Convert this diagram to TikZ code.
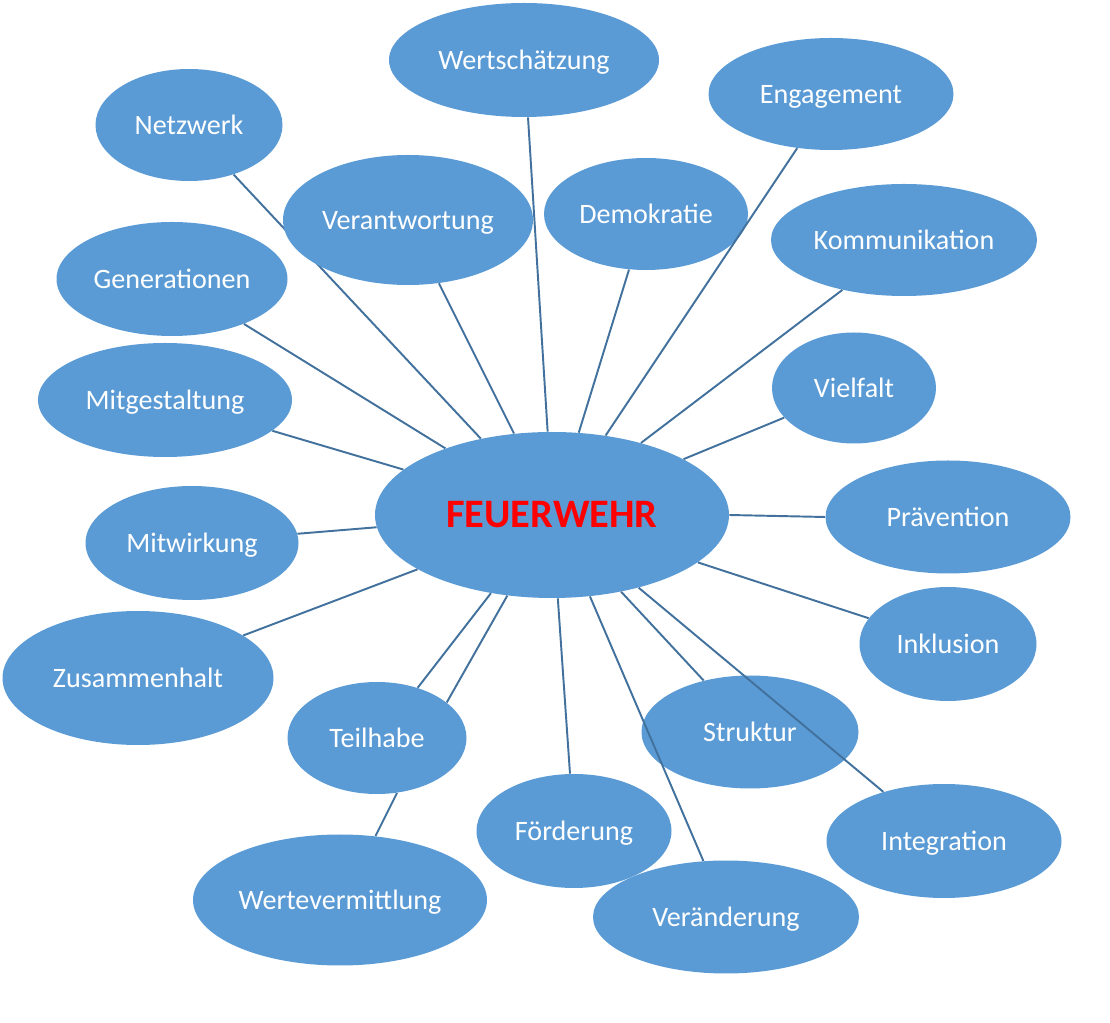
\documentclass[tikz,border=0pt]{standalone}
\usepackage{fontspec}
\setmainfont{Carlito}
\usetikzlibrary{shapes.geometric,backgrounds}
\definecolor{bubblue}{HTML}{5B9BD5}
\definecolor{conblue}{HTML}{41719C}

\begin{document}
\begin{tikzpicture}[x=0.02cm,y=-0.02cm,
    bub/.style 2 args={ellipse,fill=bubblue,text=white,inner sep=0pt,text height=10.3pt,text depth=0pt,
        minimum width=#1*0.02cm,minimum height=#2*0.02cm,font=\fontsize{16}{19}\selectfont},
    con/.style={draw=conblue,line width=1.1pt}]
    \useasboundingbox(0,0)rectangle(1110,1023);
    \node[bub={354}{166},text=red,text height=14.8pt,font=\fontsize{23}{27}\bfseries](fw)at(552,515){FEUERWEHR};
    \node[bub={270}{114}](wert)at(524,60){Wertschätzung};
    \node[bub={245}{112}](enga)at(831,94){Engagement};
    \node[bub={187}{112}](netz)at(189,125){Netzwerk};
    \node[bub={250}{130}](vera)at(408,220){Verantwortung};
    \node[bub={204}{112}](demo)at(646,214){Demokratie};
    \node[bub={266}{112}](komm)at(904,240){Kommunikation};
    \node[bub={231}{114}](gene)at(172,279){Generationen};
    \node[bub={254}{114}](mitg)at(165,400){Mitgestaltung};
    \node[bub={164}{111}](viel)at(854,388){Vielfalt};
    \node[bub={245}{113}](prae)at(948,517){Prävention};
    \node[bub={213}{114}](mitw)at(192,543){Mitwirkung};
    \node[bub={177}{114}](inkl)at(948,644){Inklusion};
    \node[bub={271}{134}](zusa)at(138,678){Zusammenhalt};
    \node[bub={179}{112}](teil)at(377,738){Teilhabe};
    \node[bub={217}{113}](stru)at(750,732){Struktur};
    \node[bub={195}{114}](foer)at(574,831){Förderung};
    \node[bub={235}{114}](inte)at(944,841){Integration};
    \node[bub={294}{131}](wver)at(340,900){Wertevermittlung};
    \node[bub={266}{113}](vaen)at(726,917){Veränderung};
    \begin{pgfonlayer}{background}
        \draw[con](fw.133)--(netz.-48);
    \end{pgfonlayer}
    \draw[con](fw.115)--(vera.-64);
    \draw[con](fw.93)--(wert.-86);
    \draw[con](fw.72)--(demo.-107);
    \draw[con](fw.56)--(enga.-122);
    \draw[con](fw.39)--(komm.-141);
    \draw[con](fw.23)--(viel.-157);
    \draw[con](fw.0)--(prae.180);
    \draw[con](fw.-18)--(inkl.162);
    \draw[con](fw.-40)--(inte.141);
    \draw[con](fw.-48)--(stru.132);
    \draw[con](fw.-65)--(vaen.112);
    \draw[con](fw.-86)--(foer.94);
    \draw[con](fw.-119)--(teil.27);
    \draw[con](fw.-128)--(teil.51);
    \draw[con](teil.-70)--(wver.61);
    \draw[con](fw.-158)--(zusa.22);
    \draw[con](fw.184)--(mitw.5);
    \draw[con](fw.163)--(mitg.-16);
    \draw[con](fw.148)--(gene.-32);
\end{tikzpicture}
\end{document}
